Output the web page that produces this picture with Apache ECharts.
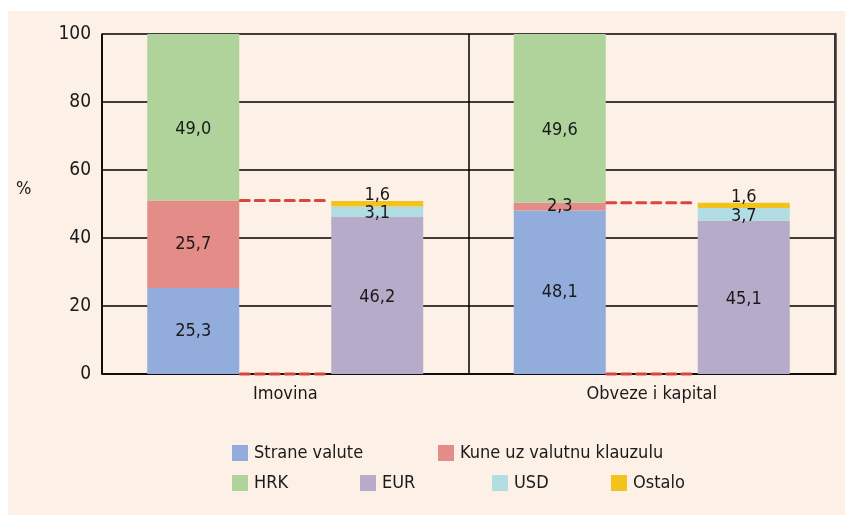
<!DOCTYPE html>
<html>
<head>
<meta charset="utf-8">
<script src="https://cdn.jsdelivr.net/npm/echarts@6/dist/echarts.min.js"></script>
<style>
  html, body { margin: 0; padding: 0; background: #fff; }
  #paper { position: absolute; left: 8px; top: 11px; width: 837px; height: 504px; background: #fcf0e7; }
  #chart { position: absolute; left: 0; top: 0; width: 845px; height: 515px; }
</style>
</head>
<body>
<div id="paper"></div>
<div id="chart"></div>
<script>
  // categories and values (%)
  var categories = ["Imovina", "Obveze i kapital"];
  var straneValute = [25.3, 48.1];
  var kuneKlauzula = [25.7, 2.3];
  var hrk = [49.0, 49.6];
  var eur = [46.2, 45.1];
  var usd = [3.1, 3.7];
  var ostalo = [1.6, 1.6];
  var yTicks = [0, 20, 40, 60, 80, 100];

  var FONT = "'Liberation Sans Narrow', 'DejaVu Sans Condensed', 'Liberation Sans', sans-serif";
  var TEXT = "#1a1a1a";
  var BAR_W = 92;

  // foreign-currency total of the left bar: where the red dashed link sits
  var foreignTop = straneValute.map(function (v, i) { return v + kuneKlauzula[i]; });
  var linkData = [];
  foreignTop.forEach(function (v, i) { linkData.push([i, v]); linkData.push([i, 0]); });

  function fmt(p) { return p.value.toFixed(1).replace(".", ","); }

  function bar(name, stack, data, color, offset) {
    return {
      name: name, type: "bar", stack: stack, data: data,
      barWidth: BAR_W, barGap: "100%",
      itemStyle: { color: color },
      label: {
        show: true, position: "inside", formatter: fmt,
        color: TEXT, fontFamily: FONT, fontSize: 18,
        offset: offset || [0, 0]
      },
      emphasis: { disabled: true }
    };
  }

  function legend(name, left, top) {
    return {
      data: [name], left: left, top: top, padding: 0,
      icon: "rect", itemWidth: 16, itemHeight: 16, itemGap: 6,
      selectedMode: false,
      textStyle: { color: TEXT, fontFamily: FONT, fontSize: 18, padding: [0, 0, 0, 1] }
    };
  }

  var chart = echarts.init(document.getElementById("chart"), null, { renderer: "canvas" });
  chart.setOption({
    animation: false,
    textStyle: { fontFamily: FONT },
    grid: { left: 102, right: 10, top: 34, bottom: 141, show: false },
    legend: [
      legend("Strane valute", 232, 444),
      legend("Kune uz valutnu klauzulu", 438, 444),
      legend("HRK", 232, 474),
      legend("EUR", 360, 474),
      legend("USD", 492, 474),
      legend("Ostalo", 611, 474)
    ],
    graphic: [{
      type: "text", left: 16, top: 180,
      style: { text: "%", fill: TEXT, font: "18px " + FONT }
    }],
    xAxis: {
      type: "category", data: categories,
      axisLine: { lineStyle: { color: "#000", width: 1.5 } },
      axisTick: { show: false },
      axisLabel: { color: TEXT, fontSize: 18, fontFamily: FONT, margin: 11 },
      splitLine: { show: true, lineStyle: { color: "#000", width: 1.5 } }
    },
    yAxis: [{
      type: "value", min: yTicks[0], max: yTicks[yTicks.length - 1], interval: 20,
      axisLine: { show: true, lineStyle: { color: "#000", width: 1.5 } },
      axisTick: { show: false },
      axisLabel: { color: TEXT, fontSize: 19, fontFamily: FONT, margin: 11 },
      splitLine: { lineStyle: { color: "#000", width: 1.5 } }
    }, {
      type: "value", position: "right", min: 0, max: 100,
      axisLine: { show: true, lineStyle: { color: "#3a3530", width: 2.5 } },
      axisTick: { show: false }, axisLabel: { show: false }, splitLine: { show: false }
    }],
    series: [
      bar("Strane valute", "left", straneValute, "#92acdb"),
      bar("Kune uz valutnu klauzulu", "left", kuneKlauzula, "#e38c88"),
      bar("HRK", "left", hrk, "#afd39b", [0, 12]),
      bar("EUR", "right", eur, "#b6abc9", [0, 2]),
      bar("USD", "right", usd, "#b2dde2", [0, 2]),
      bar("Ostalo", "right", ostalo, "#f1c31c", [0, -8]),
      {
        name: "link", type: "custom", data: linkData, z: 5,
        renderItem: function (params, api) {
          var c = api.coord([api.value(0), api.value(1)]);
          return {
            type: "line",
            shape: { x1: c[0] - BAR_W / 2 + 1, y1: c[1], x2: c[0] + BAR_W / 2 - 1, y2: c[1] },
            style: { stroke: "#d9453f", lineWidth: 3, lineDash: [9, 6], lineCap: "round" }
          };
        }
      }
    ]
  });
</script>
</body>
</html>
